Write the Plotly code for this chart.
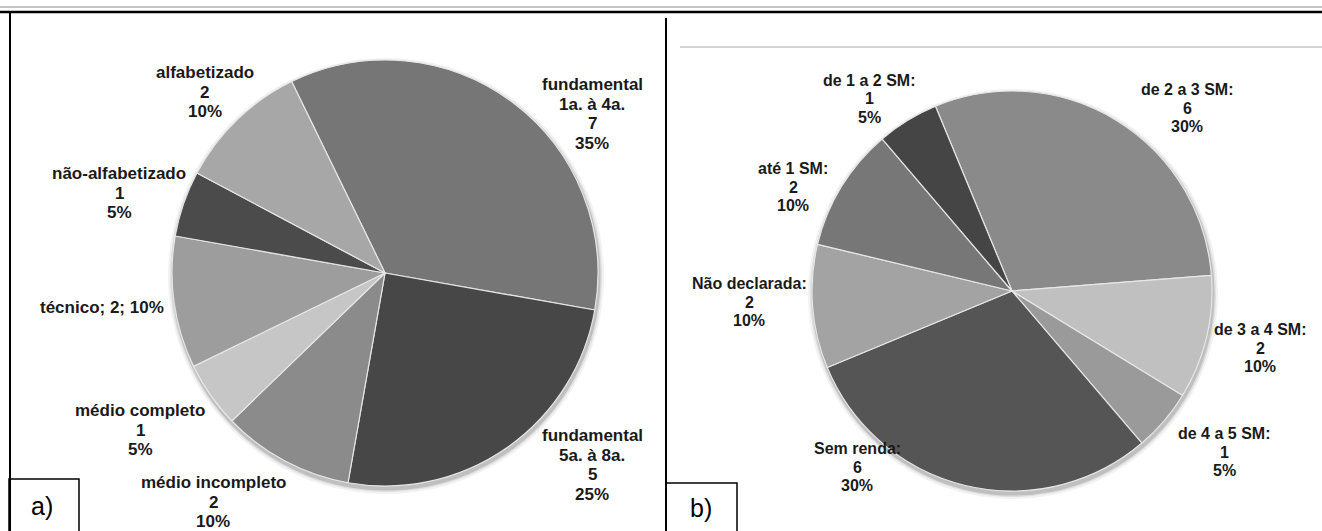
import plotly.graph_objects as go

W, H = 1322, 531

# (a) schooling level
edu_names = ["fundamental<br>1a. à 4a.", "fundamental<br>5a. à 8a.", "médio incompleto",
             "médio completo", "técnico", "não-alfabetizado", "alfabetizado"]
edu_values = [7, 5, 2, 1, 2, 1, 2]
edu_colors = ["#767676", "#474747", "#8b8b8b", "#c6c6c6", "#9d9d9d", "#4b4b4b", "#a7a7a7"]
edu_sep = ["<br>", "<br>", "<br>", "<br>", "; ", "<br>", "<br>"]

# (b) family income
inc_names = ["de 2 a 3 SM:", "de 3 a 4 SM:", "de 4 a 5 SM:", "Sem renda:",
             "Não declarada:", "até 1 SM:", "de 1 a 2 SM:"]
inc_values = [6, 2, 1, 6, 2, 2, 1]
inc_colors = ["#8a8a8a", "#c0c0c0", "#9a9a9a", "#555555", "#a3a3a3", "#777777", "#454545"]

# label anchor points (pixels, centre of the text block)
edu_label_xy = [(592, 114), (592, 465), (213, 502), (140, 430), (102, 307), (119, 193), (205, 92)]
inc_label_xy = [(1187, 108), (1260, 348), (1224, 452), (857, 467), (749, 302), (793, 187), (869, 99)]


def px(x, y):
    return x / W, 1 - y / H


def pie_domain(cx, cy, r):
    return dict(x=[(cx - r) / W, (cx + r) / W], y=[1 - (cy + r) / H, 1 - (cy - r) / H])


LEFT = (385, 273, 213)
RIGHT = (1012, 291, 200)

fig = go.Figure()
fig.add_trace(go.Pie(
    labels=[n.replace("<br>", " ") for n in edu_names], values=edu_values,
    sort=False, direction="clockwise", rotation=-26,
    marker=dict(colors=edu_colors, line=dict(color="#e6e6e6", width=1.2)),
    textinfo="none", hoverinfo="label+value+percent", showlegend=False,
    domain=pie_domain(*LEFT),
))
fig.add_trace(go.Pie(
    labels=inc_names, values=inc_values,
    sort=False, direction="clockwise", rotation=-22.5,
    marker=dict(colors=inc_colors, line=dict(color="#e6e6e6", width=1.2)),
    textinfo="none", hoverinfo="label+value+percent", showlegend=False,
    domain=pie_domain(*RIGHT),
))

annotations = []


def add_label(lines, cx, cy, size, spacing):
    """Stack the lines of a data label around (cx, cy) with a fixed line pitch."""
    n = len(lines)
    for i, txt in enumerate(lines):
        ax, ay = px(cx, cy + (i - (n - 1) / 2) * spacing)
        annotations.append(dict(
            x=ax, y=ay, xref="paper", yref="paper", showarrow=False,
            text=f"<b>{txt}</b>", xanchor="center", yanchor="middle",
            font=dict(family="Liberation Sans, Arial, sans-serif", size=size, color="#1a1a1a"),
        ))


tot = sum(edu_values)
for name, v, sep, (x, y) in zip(edu_names, edu_values, edu_sep, edu_label_xy):
    pct = round(100 * v / tot)
    if sep == "<br>":
        lines = name.split("<br>") + [str(v), f"{pct}%"]
    else:
        lines = [f"{name}{sep}{v}{sep}{pct}%"]
    add_label(lines, x, y, 17, 19.5)

tot = sum(inc_values)
for name, v, (x, y) in zip(inc_names, inc_values, inc_label_xy):
    pct = round(100 * v / tot)
    add_label([name, str(v), f"{pct}%"], x, y, 16, 18.5)

font_tag = dict(family="Liberation Sans, Arial, sans-serif", size=25, color="#000000")
for tag, (x, y) in [("a)", (42, 506)), ("b)", (701, 508))]:
    ax, ay = px(x, y)
    annotations.append(dict(x=ax, y=ay, xref="paper", yref="paper", showarrow=False,
                            text=tag, font=font_tag, xanchor="center", yanchor="middle"))

shapes = []


def line(x0, y0, x1, y1, color="#000000", width=2):
    a0, b0 = px(x0, y0)
    a1, b1 = px(x1, y1)
    shapes.append(dict(type="line", xref="paper", yref="paper", x0=a0, y0=b0, x1=a1, y1=b1,
                       line=dict(color=color, width=width)))


def rect(x0, y0, x1, y1):
    a0, b0 = px(x0, y0)
    a1, b1 = px(x1, y1)
    shapes.append(dict(type="rect", xref="paper", yref="paper", x0=a0, y0=b0, x1=a1, y1=b1,
                       line=dict(color="#000000", width=1.5), fillcolor="rgba(0,0,0,0)"))


# soft drop shadow under each pie
for cx, cy, r in (LEFT, RIGHT):
    for grow, alpha in [(5, 0.05), (3, 0.08), (1.5, 0.14)]:
        a0, b0 = px(cx - r - grow + 1, cy - r - grow + 3)
        a1, b1 = px(cx + r + grow + 1, cy + r + grow + 3)
        shapes.append(dict(type="circle", xref="paper", yref="paper", layer="below",
                           x0=a0, y0=b1, x1=a1, y1=b0, line=dict(width=0),
                           fillcolor=f"rgba(0,0,0,{alpha})"))

line(0, 7, W, 7, color="#8a8a8a", width=1)
line(0, 12, W, 12, width=2.5)
line(10, 12, 10, H, width=2)
line(666, 18, 666, H, width=2)
line(680, 47, W, 47, color="#d4d4d4", width=2)
rect(9, 479, 79, H + 2)
rect(666, 483, 737, H + 2)

fig.update_layout(
    width=W, height=H, margin=dict(l=0, r=0, t=0, b=0),
    paper_bgcolor="#ffffff", plot_bgcolor="#ffffff",
    annotations=annotations, shapes=shapes,
)

fig.write_html("out.html")
